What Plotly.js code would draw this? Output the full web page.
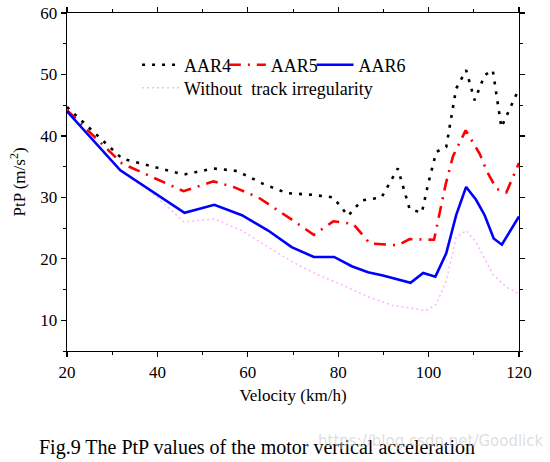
<!DOCTYPE html>
<html>
<head>
<meta charset="utf-8">
<script src="https://cdn.plot.ly/plotly-3.0.1.min.js"></script>
<style>html,body{margin:0;padding:0;background:#fff;}#chart{width:550px;height:462px;}</style>
</head>
<body>
<div id="chart"></div>
<script>
// Velocity (km/h) and PtP (m/s^2) values
const aar4X = [20, 32.2, 45.8, 52.4, 57.6, 63.4, 68.6, 74.5, 78.9, 82.2, 85.2, 89.6, 93.2, 95.8, 98.5, 99.9, 101.7, 103.9, 106.1, 108.3, 110.2, 112.4, 114.2, 116.1, 120];
const aar4Y = [44.7, 36.3, 33.7, 34.7, 34.3, 32.2, 30.7, 30.4, 30.0, 27.0, 29.5, 30.0, 34.7, 28.1, 27.5, 32.2, 37.4, 38.2, 47.7, 50.7, 45.8, 49.9, 50.7, 41.4, 47.7];

const aar5X = [20, 32.2, 45.8, 52.4, 56.8, 62.3, 70.1, 74.6, 78.9, 83.3, 87.0, 93.2, 95.8, 101.2, 103.8, 105.4, 108.2, 111.3, 112.8, 115.0, 117.2, 120];
const aar5Y = [44.2, 35.5, 31.0, 32.6, 31.7, 30.0, 26.2, 23.9, 26.1, 25.7, 22.5, 22.2, 23.2, 23.1, 32.2, 36.7, 40.9, 37.1, 34.4, 31.4, 30.8, 35.6];

const aar6X = [20, 31.8, 46.0, 52.6, 58.7, 64.5, 69.7, 74.6, 79.1, 83.0, 86.6, 89.9, 96.0, 98.8, 101.5, 103.9, 106.1, 108.3, 110.5, 112.4, 114.4, 116.2, 120];
const aar6Y = [44.0, 34.4, 27.5, 28.8, 27.1, 24.6, 21.9, 20.3, 20.3, 18.8, 17.8, 17.3, 16.1, 17.7, 17.1, 20.9, 27.1, 31.7, 29.6, 27.1, 23.3, 22.3, 26.9];

const smoothX = [20, 31.8, 38.4, 45.9, 52.6, 58.7, 64.5, 70.1, 75.2, 80.4, 87.0, 92.1, 99.5, 101.7, 103.9, 106.1, 108.3, 110.5, 114.2, 117.2, 120];
const smoothY = [44.0, 34.3, 31.0, 26.0, 26.5, 24.6, 21.9, 19.4, 17.5, 15.9, 13.7, 12.4, 11.6, 12.6, 16.4, 23.5, 24.6, 22.7, 17.5, 15.4, 14.3];

const seriesNames = ["AAR4", "AAR5", "AAR6", "Without  track irregularity"];
const xTicks = [20, 40, 60, 80, 100, 120];
const yTicks = [10, 20, 30, 40, 50, 60];

const FONT = "Liberation Serif";

const traces = [
  {x: smoothX, y: smoothY, name: seriesNames[3], mode: "lines", legend: "legend2",
   line: {color: "#ffb3ff", width: 1.5, dash: "2px,3px"}},
  {x: aar4X, y: aar4Y, name: seriesNames[0], mode: "lines", legend: "legend",
   line: {color: "#000000", width: 2.6, dash: "3px,7px"}},
  {x: aar5X, y: aar5Y, name: seriesNames[1], mode: "lines", legend: "legend3",
   line: {color: "#ff0000", width: 2.6, dash: "12px,7px,2px,7px"}},
  {x: aar6X, y: aar6Y, name: seriesNames[2], mode: "lines", legend: "legend4",
   line: {color: "#0000ff", width: 2.6}}
];

const axisCommon = {
  showgrid: false, zeroline: false, showline: true, linecolor: "#000", linewidth: 1.3,
  mirror: "ticks", ticks: "outside", ticklen: 5, tickwidth: 1.2, tickcolor: "#000",
  tickfont: {family: FONT, size: 17, color: "#000"}
};

function legendAt(x, y) {
  return {orientation: "h", x: x, y: y, xanchor: "left", yanchor: "middle",
    bgcolor: "rgba(0,0,0,0)", font: {family: FONT, size: 18}, itemwidth: 37};
}

const layout = {
  width: 550, height: 462,
  margin: {l: 66.5, r: 30.5, t: 13, b: 111.3},
  paper_bgcolor: "#fff", plot_bgcolor: "#fff",
  font: {family: FONT, color: "#000"},
  xaxis: Object.assign({}, axisCommon, {
    range: [20, 120], tickvals: xTicks, ticktext: xTicks.map(String),
    minor: {ticks: "outside", ticklen: 3, tickwidth: 1, tickcolor: "#000", dtick: 10, tick0: 10},
    title: {text: "Velocity (km/h)", font: {family: FONT, size: 17}, standoff: 8}
  }),
  yaxis: Object.assign({}, axisCommon, {
    range: [5, 60], tickvals: yTicks, ticktext: yTicks.map(String),
    minor: {ticks: "outside", ticklen: 3, tickwidth: 1, tickcolor: "#000", dtick: 5, tick0: 5},
    title: {text: "PtP (m/s<sup>2</sup>)", font: {family: FONT, size: 17}, standoff: 10}
  }),
  showlegend: true,
  legend: legendAt(0.155, 0.846),
  legend3: legendAt(0.347, 0.846),
  legend4: legendAt(0.541, 0.846),
  legend2: legendAt(0.155, 0.778),
  annotations: [
    {xref: "paper", yref: "paper", x: 0.42, y: -0.285, xanchor: "center", yanchor: "middle",
     text: "Fig.9 The PtP values of the motor vertical acceleration", showarrow: false,
     font: {family: FONT, size: 20, color: "#000"}},
    {xref: "paper", yref: "paper", x: 1.06, y: -0.265, xanchor: "right", yanchor: "middle",
     text: "https://blog.csdn.net/Goodlick", showarrow: false,
     font: {family: "DejaVu Sans", size: 15, color: "rgba(200,200,200,0.6)"}}
  ]
};

Plotly.newPlot("chart", traces, layout, {displayModeBar: false, staticPlot: true});
</script>
</body>
</html>
